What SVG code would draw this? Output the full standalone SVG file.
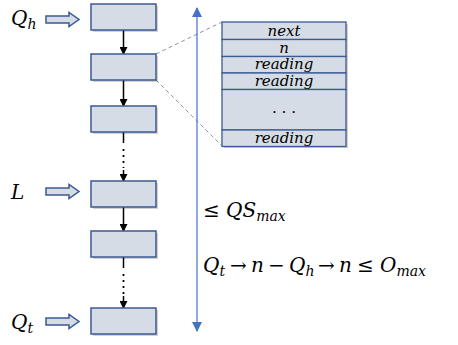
<svg xmlns="http://www.w3.org/2000/svg" width="458" height="345" viewBox="0 0 458 345">
<style>
.node{fill:#D6DCE5;stroke:#3B5A93;stroke-width:1.5}
.shadow{fill:#000;opacity:0.18}
.blk{fill:#D6DCE5;stroke:#3B5A93;stroke-width:1.5}
.math{font-family:'DejaVu Serif','Liberation Serif',serif;font-style:italic;fill:#000}
.row{fill:#D6DCE5;stroke:#3B5A93;stroke-width:1.3}
.link{stroke:#000;stroke-width:1.5;fill:none}
.dot{stroke:#000;stroke-width:1.8;stroke-dasharray:2 4;fill:none}
.dash{stroke:#8497B0;stroke-width:1;stroke-dasharray:4 3;fill:none}
.up{font-style:normal}
.sub{font-size:14px}
</style>
<defs>
<marker id="ah" markerWidth="8" markerHeight="8" refX="7" refY="4" orient="auto" markerUnits="userSpaceOnUse">
<path d="M0,0 L8,4 L0,8 Z" fill="#000"/>
</marker>
<marker id="bh" markerWidth="10" markerHeight="10" refX="9" refY="5" orient="auto" markerUnits="userSpaceOnUse">
<path d="M0,0 L10,5 L0,10 Z" fill="#4472C4"/>
</marker>
</defs>

<g id="connectors">
<line class="link" x1="123.5" y1="30" x2="123.5" y2="54" marker-end="url(#ah)"/>
<line class="link" x1="123.5" y1="80" x2="123.5" y2="106" marker-end="url(#ah)"/>
<line class="link" x1="123.5" y1="132" x2="123.5" y2="143"/>
<line class="dot" x1="123.5" y1="149" x2="123.5" y2="168"/>
<line class="link" x1="123.5" y1="170" x2="123.5" y2="181" marker-end="url(#ah)"/>
<line class="link" x1="123.5" y1="207" x2="123.5" y2="231" marker-end="url(#ah)"/>
<line class="link" x1="123.5" y1="257" x2="123.5" y2="268"/>
<line class="dot" x1="123.5" y1="274" x2="123.5" y2="294"/>
<line class="link" x1="123.5" y1="296" x2="123.5" y2="308" marker-end="url(#ah)"/>
<line class="dash" x1="156" y1="54" x2="222" y2="22"/>
<line class="dash" x1="156" y1="80" x2="222" y2="146"/>
<line x1="197" y1="170" x2="197" y2="8" stroke="#4472C4" stroke-width="1.2" marker-end="url(#bh)"/>
<line x1="197" y1="170" x2="197" y2="331" stroke="#4472C4" stroke-width="1.2" marker-end="url(#bh)"/>
</g>

<g id="pointer-Qh">
<path class="blk" d="M46,16 L69,16 L69,12.5 L79,19.5 L69,26.5 L69,23 L46,23 Z"/>
<text class="math" x="11" y="25" font-size="20">Q<tspan class="sub" dy="4">h</tspan></text>
</g>
<g id="pointer-L">
<path class="blk" d="M46,188 L69,188 L69,184.5 L79,191.5 L69,198.5 L69,195 L46,195 Z"/>
<text class="math" x="11" y="199" font-size="20">L</text>
</g>
<g id="pointer-Qt">
<path class="blk" d="M46,318 L69,318 L69,314.5 L79,321.5 L69,328.5 L69,325 L46,325 Z"/>
<text class="math" x="11" y="329" font-size="20">Q<tspan class="sub" dy="4">t</tspan></text>
</g>

<g id="node1"><rect class="shadow" x="93" y="6" width="65" height="26"/><rect class="node" x="91" y="4" width="65" height="26"/></g>
<g id="node2"><rect class="shadow" x="93" y="56" width="65" height="26"/><rect class="node" x="91" y="54" width="65" height="26"/></g>
<g id="node3"><rect class="shadow" x="93" y="108" width="65" height="26"/><rect class="node" x="91" y="106" width="65" height="26"/></g>
<g id="node4"><rect class="shadow" x="93" y="183" width="65" height="26"/><rect class="node" x="91" y="181" width="65" height="26"/></g>
<g id="node5"><rect class="shadow" x="93" y="233" width="65" height="26"/><rect class="node" x="91" y="231" width="65" height="26"/></g>
<g id="node6"><rect class="shadow" x="93" y="310" width="65" height="26"/><rect class="node" x="91" y="308" width="65" height="26"/></g>

<g id="detail">
<rect class="shadow" x="224" y="24" width="124" height="124"/>
<rect class="row" x="222" y="22" width="124" height="17.5"/>
<rect class="row" x="222" y="39.5" width="124" height="17"/>
<rect class="row" x="222" y="56.5" width="124" height="16.5"/>
<rect class="row" x="222" y="73" width="124" height="16.5"/>
<rect class="row" x="222" y="89.5" width="124" height="40.5"/>
<rect class="row" x="222" y="130" width="124" height="16.5"/>
<g class="math" font-size="15" text-anchor="middle">
<text x="284" y="35.5">next</text>
<text x="284" y="52.5">n</text>
<text x="284" y="69">reading</text>
<text x="284" y="85.5">reading</text>
<text x="284" y="113" class="up">. . .</text>
<text x="284" y="142.5">reading</text>
</g>
</g>

<g id="formulas" class="math" font-size="20">
<text x="203" y="217"><tspan class="up">≤</tspan> QS<tspan class="sub" dy="4">max</tspan></text>
<text y="272"><tspan x="203">Q</tspan><tspan class="sub" dy="4">t</tspan><tspan x="230" dy="-4" class="up">→</tspan><tspan x="251">n</tspan><tspan x="268" class="up">−</tspan><tspan x="289">Q</tspan><tspan class="sub" dy="4">h</tspan><tspan x="318" dy="-4" class="up">→</tspan><tspan x="339">n</tspan><tspan x="357" class="up">≤</tspan><tspan x="380">O</tspan><tspan class="sub" dy="4">max</tspan></text>
</g>
</svg>
